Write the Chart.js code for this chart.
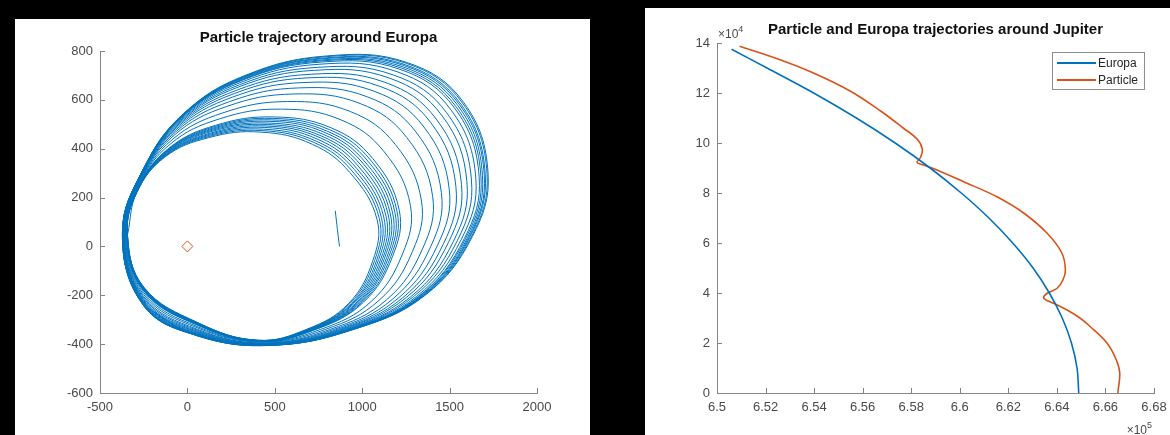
<!DOCTYPE html>
<html>
<head>
<meta charset="utf-8">
<script src="https://cdn.jsdelivr.net/npm/chart.js"></script>
<style>
  html, body { margin: 0; padding: 0; background: #000; width: 1170px; height: 435px; overflow: hidden; }
  .panel { position: absolute; background: #fff; }
  #leftPanel { left: 15px; top: 19px; width: 575px; height: 416px; }
  #rightPanel { left: 645px; top: 8px; width: 525px; height: 427px; }
</style>
</head>
<body>

<div class="panel" id="leftPanel"><canvas id="orbitChart" width="575" height="416"></canvas></div>
<div class="panel" id="rightPanel"><canvas id="jupiterChart" width="525" height="427"></canvas></div>

<script>
// ---- left chart: particle loops around Europa
// 14 key points read on each loop (p01 = leftmost, then clockwise over the top),
// one entry per loop from the innermost loop to the outermost one
const leftXTicks = [-500, 0, 500, 1000, 1500, 2000];
const leftYTicks = [-600, -400, -200, 0, 200, 400, 600, 800];

// short loose piece of track inside the loops
const startX = [846, 858, 870];
const startY = [146, 70, 0];

const p01X = [-342, -343, -343, -344, -344, -345, -346, -346, -347, -347, -348, -351, -354, -357, -359, -362, -363, -365, -366, -368, -369, -370, -370, -371, -371, -371, -372, -372];
const p01Y = [50, 50, 50, 50, 50, 50, 50, 51, 51, 51, 51, 51, 52, 52, 52, 53, 53, 53, 53, 53, 54, 54, 54, 54, 54, 54, 54, 54];
const p02X = [-290, -289, -288, -288, -287, -286, -285, -284, -284, -283, -282, -278, -274, -270, -267, -264, -262, -260, -258, -256, -254, -253, -253, -252, -251, -251, -250, -250];
const p02Y = [220, 222, 224, 226, 228, 230, 232, 234, 236, 238, 240, 250, 260, 270, 278, 285, 291, 296, 301, 305, 309, 312, 314, 315, 317, 318, 319, 320];
const p03X = [-130, -128, -126, -124, -121, -119, -117, -115, -113, -111, -108, -98, -87, -76, -67, -60, -53, -48, -42, -38, -34, -31, -29, -27, -26, -25, -23, -22];
const p03Y = [365, 369, 372, 376, 379, 383, 387, 390, 394, 397, 401, 419, 437, 455, 469, 481, 492, 501, 510, 517, 524, 530, 532, 535, 538, 540, 542, 544];
const p04X = [120, 124, 128, 133, 137, 141, 145, 149, 154, 158, 162, 183, 204, 225, 242, 257, 269, 280, 290, 299, 307, 313, 316, 320, 323, 325, 328, 330];
const p04Y = [445, 450, 455, 460, 465, 471, 476, 481, 486, 491, 496, 522, 547, 573, 593, 611, 626, 639, 652, 662, 672, 680, 683, 687, 691, 694, 697, 700];
const p05X = [420, 428, 435, 443, 450, 458, 466, 473, 481, 488, 496, 534, 572, 610, 640, 667, 690, 709, 728, 743, 758, 770, 775, 781, 787, 791, 796, 800];
const p05Y = [468, 474, 480, 487, 493, 499, 505, 512, 518, 524, 530, 562, 593, 624, 649, 671, 690, 705, 721, 733, 746, 755, 760, 764, 769, 772, 777, 780];
const p06X = [715, 726, 737, 748, 759, 770, 780, 791, 802, 813, 824, 879, 933, 988, 1031, 1069, 1102, 1129, 1156, 1178, 1200, 1216, 1225, 1233, 1241, 1246, 1255, 1260];
const p06Y = [418, 425, 431, 438, 445, 451, 458, 465, 471, 478, 485, 518, 552, 585, 612, 635, 655, 672, 689, 702, 715, 725, 730, 735, 740, 744, 749, 752];
const p07X = [930, 943, 956, 969, 982, 995, 1008, 1021, 1034, 1047, 1060, 1125, 1190, 1255, 1307, 1353, 1392, 1424, 1457, 1483, 1509, 1528, 1538, 1548, 1557, 1564, 1574, 1580];
const p07Y = [302, 308, 314, 319, 325, 331, 337, 342, 348, 354, 360, 388, 417, 446, 469, 489, 507, 521, 535, 547, 558, 567, 571, 576, 580, 583, 587, 590];
const p08X = [1085, 1098, 1110, 1123, 1136, 1149, 1161, 1174, 1187, 1199, 1212, 1276, 1339, 1403, 1453, 1498, 1536, 1568, 1599, 1625, 1650, 1669, 1679, 1688, 1698, 1704, 1714, 1720];
const p08Y = [110, 114, 118, 121, 125, 129, 133, 137, 140, 144, 148, 167, 186, 205, 220, 234, 245, 254, 264, 272, 279, 285, 288, 291, 293, 295, 298, 300];
const p09X = [1060, 1071, 1083, 1094, 1106, 1117, 1128, 1140, 1151, 1163, 1174, 1231, 1288, 1345, 1391, 1431, 1465, 1493, 1522, 1545, 1567, 1584, 1593, 1602, 1610, 1616, 1624, 1630];
const p09Y = [-60, -58, -56, -54, -52, -50, -48, -46, -44, -42, -40, -30, -20, -10, -2, 5, 11, 16, 21, 25, 29, 32, 34, 35, 37, 38, 39, 40];
const p10X = [920, 929, 938, 946, 955, 964, 973, 982, 990, 999, 1008, 1052, 1096, 1140, 1175, 1206, 1232, 1254, 1276, 1294, 1312, 1325, 1331, 1338, 1345, 1349, 1356, 1360];
const p10Y = [-235, -234, -234, -233, -232, -232, -231, -230, -229, -229, -228, -225, -221, -218, -215, -212, -210, -208, -207, -205, -204, -203, -202, -202, -201, -201, -200, -200];
const p11X = [680, 685, 691, 696, 702, 707, 712, 718, 723, 729, 734, 761, 788, 815, 837, 856, 872, 885, 899, 910, 920, 928, 932, 937, 941, 943, 947, 950];
const p11Y = [-340, -340, -340, -340, -340, -340, -340, -340, -340, -340, -340, -340, -340, -340, -340, -340, -340, -340, -340, -340, -340, -340, -340, -340, -340, -340, -340, -340];
const p12X = [400, 402, 403, 405, 406, 408, 410, 411, 413, 414, 416, 424, 432, 440, 446, 452, 457, 461, 465, 468, 471, 474, 475, 476, 477, 478, 479, 480];
const p12Y = [-384, -384, -385, -385, -386, -386, -386, -387, -387, -388, -388, -390, -392, -395, -396, -398, -399, -400, -401, -402, -403, -403, -404, -404, -404, -404, -405, -405];
const p13X = [60, 60, 60, 60, 60, 60, 60, 60, 60, 60, 60, 60, 60, 60, 60, 60, 60, 60, 60, 60, 60, 60, 60, 60, 60, 60, 60, 60];
const p13Y = [-312, -313, -314, -315, -316, -318, -319, -320, -321, -322, -323, -329, -334, -340, -344, -348, -351, -354, -357, -359, -361, -363, -363, -364, -365, -366, -366, -367];
const p14X = [-250, -250, -250, -250, -250, -250, -250, -250, -250, -250, -250, -250, -250, -250, -250, -250, -250, -250, -250, -250, -250, -250, -250, -250, -250, -250, -250, -250];
const p14Y = [-166, -168, -169, -171, -172, -174, -175, -177, -179, -180, -182, -189, -197, -205, -211, -217, -221, -225, -229, -232, -235, -238, -239, -240, -241, -242, -243, -244];

const europaPos = [{x: 0, y: 0}];

// ---- right chart: x in units of 1e5, y in units of 1e4
const rightXTicks = [6.5, 6.52, 6.54, 6.56, 6.58, 6.6, 6.62, 6.64, 6.66, 6.68];
const rightYTicks = [0, 2, 4, 6, 8, 10, 12, 14];

const europaX = [6.506, 6.5206, 6.5398, 6.5574, 6.5734, 6.5878, 6.6006, 6.612, 6.6218, 6.6302, 6.6369, 6.6422, 6.646, 6.6483, 6.649];
const europaY = [13.75, 13, 12, 11, 10, 9, 8, 7, 6, 5, 4, 3, 2, 1, 0];

const particleX = [6.5093, 6.524, 6.5395, 6.555, 6.5674, 6.5767, 6.5825, 6.5846, 6.5838, 6.5824, 6.5851, 6.5906, 6.6016, 6.6153, 6.6263, 6.636, 6.6421, 6.6435, 6.6425, 6.6401, 6.636, 6.6346, 6.6387, 6.6442, 6.6495, 6.6538, 6.6607, 6.6645, 6.6659, 6.6651];
const particleY = [13.87, 13.4, 12.81, 12.07, 11.28, 10.6, 10.15, 9.75, 9.42, 9.22, 9.12, 8.92, 8.45, 7.85, 7.2, 6.39, 5.59, 4.92, 4.52, 4.19, 3.99, 3.79, 3.59, 3.32, 3.0, 2.65, 1.99, 1.32, 0.79, 0];

const BLUE = "#0072BD";
const ORANGE = "#D95319";
const AXIS = "#858585";
const LABEL = "#4a4a4a";
const FONT = '"Liberation Sans", Arial, Helvetica, sans-serif';


// loops as one continuous path: for each loop p01 -> p02 -> ... -> p14
const loopKeys = [
    [p01X, p01Y], [p02X, p02Y], [p03X, p03Y], [p04X, p04Y], [p05X, p05Y], [p06X, p06Y], [p07X, p07Y],
    [p08X, p08Y], [p09X, p09Y], [p10X, p10Y], [p11X, p11Y], [p12X, p12Y], [p13X, p13Y], [p14X, p14Y]
];
const orbitPath = [];
p01X.forEach((_, k) => {
    loopKeys.forEach(pair => orbitPath.push({x: pair[0][k], y: pair[1][k]}));
});

const zip = (xs, ys) => xs.map((x, i) => ({x: x, y: ys[i]}));


// inward tick marks like matlab
const innerTicks = {
    id: "innerTicks",
    afterDraw(chart) {
        const ctx = chart.ctx;
        const a = chart.chartArea;
        const xs = chart.scales.x;
        const ys = chart.scales.y;
        ctx.save();
        ctx.strokeStyle = AXIS;
        ctx.lineWidth = 1;
        xs.ticks.forEach(t => {
            const px = Math.round(xs.getPixelForValue(t.value)) + 0.5;
            ctx.beginPath();
            ctx.moveTo(px, a.bottom);
            ctx.lineTo(px, a.bottom - 5);
            ctx.stroke();
        });
        ys.ticks.forEach(t => {
            const py = Math.round(ys.getPixelForValue(t.value)) + 0.5;
            ctx.beginPath();
            ctx.moveTo(a.left, py);
            ctx.lineTo(a.left + 5, py);
            ctx.stroke();
        });
        ctx.restore();
    }
};

// title centred over the plot area (not the whole canvas)
const plotTitle = {
    id: "plotTitle",
    afterDraw(chart, args, opts) {
        const ctx = chart.ctx;
        const a = chart.chartArea;
        ctx.save();
        ctx.font = "bold 15px " + FONT;
        ctx.fillStyle = "#111";
        ctx.textAlign = "center";
        ctx.textBaseline = "middle";
        ctx.fillText(opts.text, (a.left + a.right) / 2, a.top - opts.offset);
        ctx.restore();
    }
};

// x10^n exponent labels for the right chart
const exponents = {
    id: "exponents",
    afterDraw(chart) {
        const ctx = chart.ctx;
        const a = chart.chartArea;
        ctx.save();
        ctx.fillStyle = LABEL;
        ctx.textBaseline = "alphabetic";
        ctx.textAlign = "left";

        ctx.font = "12px " + FONT;
        ctx.fillText("\u00d710", a.left + 1, a.top - 5);
        let w = ctx.measureText("\u00d710").width;
        ctx.font = "9px " + FONT;
        ctx.fillText("4", a.left + 1 + w, a.top - 11);

        ctx.font = "12px " + FONT;
        w = ctx.measureText("\u00d710").width;
        const x5 = a.right - 7 - w;
        ctx.fillText("\u00d710", x5, a.bottom + 41);
        ctx.font = "9px " + FONT;
        ctx.fillText("5", x5 + w, a.bottom + 35);
        ctx.restore();
    }
};

// boxed legend in the upper right corner of the plot
const boxLegend = {
    id: "boxLegend",
    afterDraw(chart) {
        const ctx = chart.ctx;
        const a = chart.chartArea;
        const sets = chart.data.datasets;
        const w = 92, rowH = 17;
        const h = sets.length * rowH + 3;
        const x0 = a.right - 10 - w;
        const y0 = a.top + 9;
        ctx.save();
        ctx.fillStyle = "#fff";
        ctx.fillRect(x0, y0, w, h);
        ctx.strokeStyle = "#8c8c8c";
        ctx.lineWidth = 1;
        ctx.strokeRect(x0 + 0.5, y0 + 0.5, w, h);
        ctx.font = "12px " + FONT;
        ctx.textBaseline = "middle";
        sets.forEach((ds, i) => {
            const cy = y0 + 11 + i * rowH;
            ctx.strokeStyle = ds.borderColor;
            ctx.lineWidth = 2;
            ctx.beginPath();
            ctx.moveTo(x0 + 5, cy);
            ctx.lineTo(x0 + 44, cy);
            ctx.stroke();
            ctx.fillStyle = "#262626";
            ctx.fillText(ds.label, x0 + 46, cy + 1);
        });
        ctx.restore();
    }
};


function axisOptions(min, max, tickList, fitSize, isX, fmt) {
    return {
        type: "linear",
        min: min,
        max: max,
        afterBuildTicks: s => { s.ticks = tickList.map(v => ({value: v})); },
        afterFit: s => {
            // fixed axis size, and no extra room for overhanging end labels
            if (isX) {
                s.height = fitSize;
                s.paddingLeft = 0;
                s.paddingRight = 0;
            } else {
                s.width = fitSize;
                s.paddingTop = 0;
                s.paddingBottom = 0;
            }
        },
        grid: { drawOnChartArea: false, drawTicks: false },
        border: { display: true, color: AXIS, width: 1 },
        ticks: {
            color: LABEL,
            padding: 7,
            maxRotation: 0,
            autoSkip: false,
            font: { family: FONT, size: 13 },
            callback: fmt
        }
    };
}


Chart.defaults.font.family = FONT;

new Chart(document.getElementById("orbitChart"), {
    type: "scatter",
    data: {
        datasets: [
            {
                label: "Particle",
                data: orbitPath,
                showLine: true,
                borderColor: BLUE,
                borderWidth: 1,
                pointRadius: 0,
                tension: 0.4
            },
            {
                label: "Particle start",
                data: zip(startX, startY),
                showLine: true,
                borderColor: BLUE,
                borderWidth: 1,
                pointRadius: 0,
                tension: 0.4
            },
            {
                label: "Europa",
                data: europaPos,
                showLine: false,
                pointStyle: "rectRot",
                pointRadius: 5.5,
                borderColor: ORANGE,
                backgroundColor: "rgba(0,0,0,0)",
                borderWidth: 1
            }
        ]
    },
    options: {
        responsive: false,
        animation: false,
        layout: { padding: { left: 0, right: 53, top: 32, bottom: 0 } },
        plugins: {
            legend: { display: false },
            tooltip: { enabled: false },
            title: { display: false },
            plotTitle: { text: "Particle trajectory around Europa", offset: 13 }
        },
        scales: {
            x: axisOptions(-500, 2000, leftXTicks, 42, true, v => v),
            y: axisOptions(-600, 800, leftYTicks, 85, false, v => v)
        }
    },
    plugins: [innerTicks, plotTitle]
});


new Chart(document.getElementById("jupiterChart"), {
    type: "scatter",
    data: {
        datasets: [
            {
                label: "Europa",
                data: zip(europaX, europaY),
                showLine: true,
                borderColor: BLUE,
                borderWidth: 1.6,
                pointRadius: 0,
                tension: 0.35
            },
            {
                label: "Particle",
                data: zip(particleX, particleY),
                showLine: true,
                borderColor: ORANGE,
                borderWidth: 1.6,
                pointRadius: 0,
                tension: 0.35
            }
        ]
    },
    options: {
        responsive: false,
        animation: false,
        layout: { padding: { left: 0, right: 16, top: 35, bottom: 0 } },
        plugins: {
            legend: { display: false },
            tooltip: { enabled: false },
            title: { display: false },
            plotTitle: { text: "Particle and Europa trajectories around Jupiter", offset: 13 }
        },
        scales: {
            x: axisOptions(6.5, 6.68, rightXTicks, 42, true, v => String(Number(v.toFixed(2)))),
            y: axisOptions(0, 14, rightYTicks, 72, false, v => v)
        }
    },
    plugins: [innerTicks, plotTitle, exponents, boxLegend]
});
</script>
</body>
</html>
